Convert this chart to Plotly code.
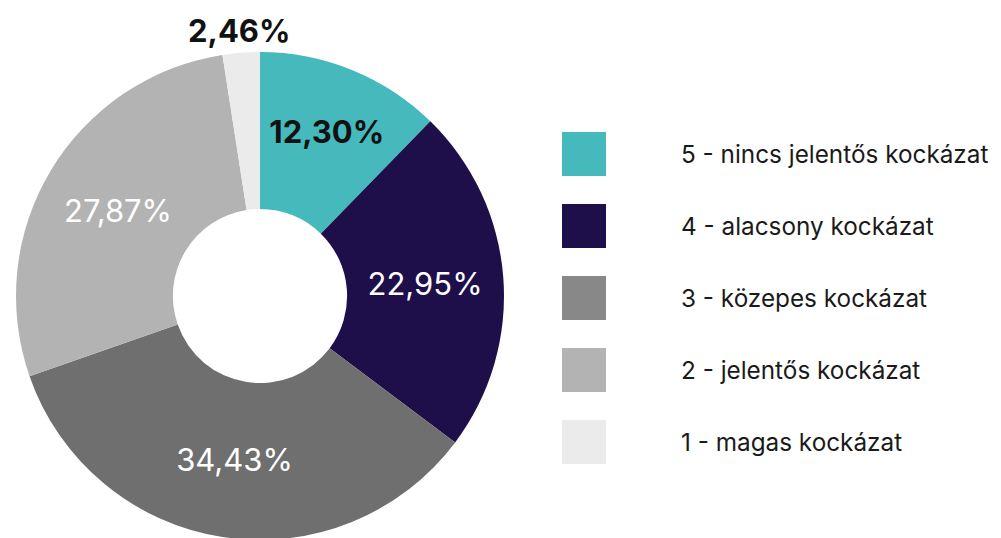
import math
import plotly.graph_objects as go

categories = ["5 - nincs jelentős kockázat", "4 - alacsony kockázat", "3 - közepes kockázat",
              "2 - jelentős kockázat", "1 - magas kockázat"]
values = [12.30, 22.95, 34.43, 27.87, 2.46]
slice_colors = ["#46B9BD", "#1E0F4B", "#6F6F6F", "#B3B3B3", "#EBEBEB"]
legend_colors = ["#46B9BD", "#1E0F4B", "#888888", "#B3B3B3", "#EBEBEB"]
text_colors = ["#111111", "#FFFFFF", "#FFFFFF", "#FFFFFF", "#111111"]
bold = [True, False, False, False, True]
outside = [False, False, False, False, True]

FONT = "Inter"
W, H = 1001, 538
OFF = 8  # page body margin

labels_txt = []
for v, b in zip(values, bold):
    s = f"{v:.2f}".replace(".", ",") + "%"
    labels_txt.append(f"<b>{s}</b>" if b else s)

cx, cy, r = 260 - OFF, 296 - OFF, 244
fig = go.Figure(go.Pie(
    labels=categories, values=values, sort=False, direction="clockwise", rotation=0,
    hole=0.357, marker=dict(colors=slice_colors, line=dict(width=0)),
    text=[t if not o else "" for t, o in zip(labels_txt, outside)],
    textinfo="text", textposition=["none" if o else "inside" for o in outside],
    insidetextorientation="horizontal",
    textfont=dict(family=FONT, size=31, color=text_colors),
    domain=dict(x=[(cx - r) / W, (cx + r) / W], y=[(H - cy - r) / H, (H - cy + r) / H]),
    showlegend=False, hoverinfo="label+percent",
))

shapes, annotations = [], []
# outside labels placed just beyond the slice's mid-angle
total = sum(values)
cum = 0.0
for v, t, col, o in zip(values, labels_txt, text_colors, outside):
    mid = (cum + v / 2) / total * 2 * math.pi
    cum += v
    if o:
        R = r + 22
        px = cx + R * math.sin(mid)
        py = cy - R * math.cos(mid)
        annotations.append(dict(text=t, xref="paper", yref="paper", x=px / W, y=1 - py / H,
                                xanchor="center", yanchor="middle", showarrow=False,
                                font=dict(family=FONT, size=31, color=col)))

for i, (cat, col) in enumerate(zip(categories, legend_colors)):
    yc = 1 - (154 + 72 * i - OFF) / H
    shapes.append(dict(type="rect", xref="paper", yref="paper",
                       x0=(562 - OFF) / W, x1=(606 - OFF) / W, y0=yc - 22 / H, y1=yc + 22 / H,
                       fillcolor=col, line=dict(width=0)))
    annotations.append(dict(text=cat, xref="paper", yref="paper", x=(679 - OFF) / W, y=yc,
                            xanchor="left", yanchor="middle", showarrow=False,
                            font=dict(family=FONT, size=24.3, color="#1a1a1a")))

fig.update_layout(width=W, height=H, margin=dict(l=0, r=0, t=0, b=0),
                  paper_bgcolor="white", plot_bgcolor="white",
                  shapes=shapes, annotations=annotations,
                  uniformtext=dict(minsize=31, mode="show"))
fig.write_html("out.html")
